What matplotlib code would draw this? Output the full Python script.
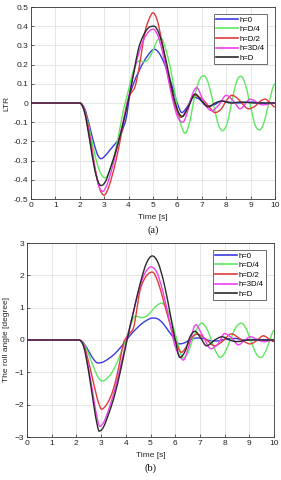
import matplotlib; matplotlib.use("Agg")
import matplotlib.pyplot as plt
from matplotlib.path import Path
from matplotlib.patches import PathPatch
from matplotlib.lines import Line2D

plt.rcParams["font.family"] = ["Liberation Sans", "DejaVu Sans"]

# ---- data: (time [s], value) key points per case ----
labels = ["h=0", "h=D/4", "h=D/2", "h=3D/4", "h=D"]
colors = ["#3a3ae0", "#5ee85e", "#e03a3a", "#f040f0", "#2a2a2a"]

# (a) LTR
ltr_t0 = [0, 2.0, 2.2, 2.4, 2.6, 2.75, 2.87, 3.0, 3.2, 3.4, 3.58, 3.75, 3.9, 4.05, 4.2, 4.4, 4.6, 4.8, 5.05, 5.25,
          5.45, 5.65, 5.85, 6.05, 6.18, 6.4, 6.66, 6.9, 7.2, 7.5, 7.8, 8.1, 8.5, 9.0, 9.5, 10]
ltr_h0 = [0, 0, -0.03, -0.12, -0.22, -0.275, -0.29, -0.28, -0.25, -0.22, -0.19, -0.14, -0.08, 0.04, 0.1, 0.16, 0.21, 0.25, 0.28, 0.26,
          0.21, 0.14, 0.06, -0.02, -0.05, -0.02, 0.03, 0.02, -0.015, -0.01, 0.01, 0.005, 0.0, 0.005, 0.0, 0.0]
ltr_t1 = [0, 2.0, 2.2, 2.4, 2.6, 2.8, 3.03, 3.2, 3.4, 3.6, 3.8, 4.0, 4.15, 4.3, 4.45, 4.6, 4.75, 4.95, 5.2, 5.35,
          5.5, 5.7, 5.9, 6.1, 6.32, 6.5, 6.7, 6.9, 7.09, 7.3, 7.5, 7.7, 7.86, 8.05, 8.25, 8.45, 8.61, 8.8,
          9.0, 9.2, 9.38, 9.55, 9.75, 10]
ltr_h1 = [0, 0, -0.04, -0.14, -0.26, -0.35, -0.39, -0.36, -0.28, -0.16, -0.03, 0.07, 0.15, 0.2, 0.22, 0.215, 0.22, 0.26, 0.33, 0.335,
          0.29, 0.19, 0.05, -0.09, -0.158, -0.1, 0.03, 0.12, 0.142, 0.09, -0.02, -0.12, -0.144, -0.1, 0.02, 0.12, 0.139, 0.09,
          -0.02, -0.12, -0.14, -0.1, 0.0, 0.1]
ltr_t2 = [0, 2.0, 2.2, 2.4, 2.6, 2.8, 3.0, 3.15, 3.3, 3.5, 3.75, 3.92, 4.05, 4.15, 4.25, 4.35, 4.5, 4.67, 4.85, 5.0, 5.15,
          5.35, 5.55, 5.8, 6.0, 6.14, 6.4, 6.66, 6.9, 7.1, 7.3, 7.54, 7.8, 8.0, 8.23, 8.5, 8.7, 8.91, 9.2, 9.4, 9.6, 9.8, 10]
ltr_h2 = [0, 0, -0.04, -0.16, -0.32, -0.44, -0.48, -0.45, -0.39, -0.29, -0.13, -0.01, 0.04, 0.06, 0.08, 0.13, 0.24, 0.37, 0.44, 0.47, 0.44,
          0.33, 0.19, 0.04, -0.05, -0.075, -0.03, 0.04, 0.03, 0.01, -0.02, -0.05, -0.03, 0.01, 0.04, 0.02, -0.01, -0.03, -0.015, 0.01, 0.02, 0.0, -0.02]
ltr_t3 = [0, 2.0, 2.2, 2.4, 2.6, 2.8, 2.95, 3.1, 3.3, 3.5, 3.75, 3.95, 4.15, 4.35, 4.55, 4.75, 5.0, 5.2, 5.4, 5.6,
          5.8, 6.0, 6.22, 6.45, 6.6, 6.79, 7.0, 7.2, 7.4, 7.7, 8.0, 8.3, 8.57, 8.98, 9.5, 10]
ltr_h3 = [0, 0, -0.05, -0.18, -0.33, -0.44, -0.46, -0.43, -0.35, -0.25, -0.11, 0.0, 0.12, 0.23, 0.31, 0.36, 0.385, 0.35, 0.26, 0.14,
          0.02, -0.07, -0.1, -0.03, 0.04, 0.08, 0.03, -0.02, -0.04, -0.01, 0.04, 0.01, -0.03, 0.02, -0.01, 0.0]
ltr_t4 = [0, 2.0, 2.2, 2.4, 2.6, 2.75, 2.87, 3.05, 3.25, 3.5, 3.75, 4.0, 4.2, 4.4, 4.6, 4.8, 5.04, 5.25, 5.45, 5.65,
          5.85, 6.05, 6.2, 6.45, 6.73, 7.0, 7.27, 7.55, 7.82, 8.2, 8.6, 9.2, 10]
ltr_h4 = [0, 0, -0.05, -0.19, -0.34, -0.41, -0.43, -0.41, -0.34, -0.24, -0.12, 0.02, 0.15, 0.28, 0.35, 0.39, 0.4, 0.36, 0.27, 0.15,
          0.03, -0.05, -0.07, -0.02, 0.047, 0.01, -0.02, 0.0, 0.01, 0.0, 0.005, 0.0, 0.0]

# (b) roll angle [degree]
roll_t0 = [0, 2.1, 2.3, 2.5, 2.7, 2.86, 3.05, 3.3, 3.56, 3.8, 3.97, 4.17, 4.4, 4.64, 4.85, 5.08, 5.3, 5.5, 5.72, 5.9, 6.06,
           6.2, 6.4, 6.6, 6.85, 7.1, 7.4, 7.7, 8.0, 8.4, 8.8, 9.3, 9.7, 10]
roll_h0 = [0, 0, -0.1, -0.35, -0.6, -0.71, -0.69, -0.58, -0.42, -0.22, -0.06, 0.14, 0.33, 0.5, 0.61, 0.68, 0.65, 0.52, 0.29, 0.1, -0.07,
           -0.12, -0.08, 0.0, 0.06, 0.05, -0.02, -0.03, 0.02, 0.05, 0.0, 0.02, 0.0, 0.0]
roll_t1 = [0, 2.1, 2.3, 2.5, 2.7, 2.9, 3.05, 3.25, 3.56, 3.75, 3.9, 4.05, 4.17, 4.37, 4.5, 4.64, 4.8, 5.0, 5.2, 5.45,
           5.65, 5.85, 6.05, 6.33, 6.5, 6.7, 6.9, 7.07, 7.3, 7.5, 7.7, 7.81, 8.0, 8.2, 8.45, 8.69, 8.9, 9.1, 9.3, 9.47,
           9.7, 9.85, 10]
roll_h1 = [0, 0, -0.12, -0.45, -0.85, -1.18, -1.27, -1.18, -0.84, -0.5, -0.2, 0.12, 0.4, 0.73, 0.72, 0.69, 0.72, 0.85, 1.03, 1.14,
           0.98, 0.6, 0.05, -0.56, -0.42, 0.0, 0.38, 0.52, 0.32, -0.08, -0.44, -0.54, -0.4, -0.05, 0.38, 0.52, 0.3, -0.1, -0.45, -0.54,
           -0.28, 0.05, 0.3]
roll_t2 = [0, 2.1, 2.3, 2.5, 2.7, 2.9, 3.02, 3.2, 3.56, 3.75, 3.9, 4.04, 4.17, 4.3, 4.58, 4.85, 5.08, 5.3, 5.52, 5.75,
           6.0, 6.25, 6.5, 6.7, 6.9, 7.2, 7.6, 7.9, 8.28, 8.6, 9.03, 9.3, 9.57, 9.8, 10]
roll_h2 = [0, 0, -0.15, -0.7, -1.35, -1.95, -2.14, -2.02, -1.35, -0.7, -0.11, 0.1, 0.22, 0.35, 1.54, 2.0, 2.1, 1.8, 1.23, 0.6,
           0.0, -0.38, -0.15, 0.1, 0.18, 0.05, -0.18, -0.05, 0.19, 0.05, -0.12, -0.02, 0.13, 0.03, -0.05]
roll_t3 = [0, 2.1, 2.3, 2.5, 2.7, 2.85, 2.95, 3.1, 3.35, 3.6, 3.85, 4.05, 4.3, 4.55, 4.8, 5.02, 5.25, 5.5, 5.75, 6.0,
           6.2, 6.33, 6.55, 6.83, 7.1, 7.45, 7.75, 8.0, 8.3, 8.55, 8.8, 9.05, 9.35, 9.6, 10]
roll_h3 = [0, 0, -0.2, -0.9, -1.8, -2.45, -2.67, -2.55, -2.05, -1.4, -0.6, 0.05, 0.85, 1.6, 2.1, 2.26, 2.1, 1.5, 0.65, -0.2,
           -0.52, -0.62, -0.2, 0.47, 0.15, -0.27, -0.1, 0.2, 0.05, -0.15, -0.02, 0.1, 0.0, -0.05, 0.0]
roll_t4 = [0, 2.1, 2.3, 2.5, 2.7, 2.85, 2.92, 3.05, 3.3, 3.55, 3.8, 4.05, 4.35, 4.6, 4.85, 5.07, 5.3, 5.55, 5.8, 6.0,
           6.19, 6.4, 6.6, 6.8, 7.0, 7.27, 7.6, 7.9, 8.2, 8.5, 9.0, 10]
roll_h4 = [0, 0, -0.22, -1.0, -2.0, -2.65, -2.82, -2.75, -2.3, -1.7, -0.9, 0.0, 1.0, 1.8, 2.4, 2.6, 2.4, 1.75, 0.8, 0.0,
           -0.54, -0.35, 0.1, 0.27, 0.1, -0.18, 0.0, 0.1, 0.0, -0.05, 0.0, 0.0]

ltr_t = [ltr_t0, ltr_t1, ltr_t2, ltr_t3, ltr_t4]
ltr_v = [ltr_h0, ltr_h1, ltr_h2, ltr_h3, ltr_h4]
roll_t = [roll_t0, roll_t1, roll_t2, roll_t3, roll_t4]
roll_v = [roll_h0, roll_h1, roll_h2, roll_h3, roll_h4]

TXT = "#262626"

def smooth_path(x, y):
    # draw through the read points with cubic Bezier pieces (flat tangent at extrema)
    n = len(x)
    d = [(y[i+1]-y[i])/(x[i+1]-x[i]) for i in range(n-1)]
    m = [0.0]*n
    for i in range(1, n-1):
        if d[i-1]*d[i] > 0:
            h0, h1 = x[i]-x[i-1], x[i+1]-x[i]
            m[i] = (h0*d[i] + h1*d[i-1])/(h0+h1)
    verts = [(x[0], y[0])]; codes = [Path.MOVETO]
    for i in range(n-1):
        h = x[i+1]-x[i]
        verts += [(x[i]+h/3, y[i]+m[i]*h/3), (x[i+1]-h/3, y[i+1]-m[i+1]*h/3), (x[i+1], y[i+1])]
        codes += [Path.CURVE4]*3
    return Path(verts, codes)

fig = plt.figure(figsize=(2.81, 4.80), dpi=100)
ax1 = fig.add_axes([31/281, 1-199/480, 244/281, 192/480])
ax2 = fig.add_axes([27/281, 1-437/480, 247/281, 194/480])

def draw(ax, ts, vs):
    for tt, vv, c in zip(ts, vs, colors):
        ax.add_patch(PathPatch(smooth_path(tt, vv), fill=False, ec=c, lw=1.0, capstyle="round", joinstyle="round"))

def style(ax, ylim, yticks, ylabel, tag, ylab_x):
    ax.set_xlim(0, 10); ax.set_ylim(*ylim)
    ax.set_xticks(range(0, 11)); ax.set_yticks(yticks)
    ax.grid(True, color="#e2e2e2", lw=0.6)
    ax.set_axisbelow(True)
    for s in ax.spines.values():
        s.set_color("#333333"); s.set_linewidth(0.6)
    ax.tick_params(labelsize=6, colors=TXT, direction="in", length=2, width=0.5, pad=2)
    ax.set_xlabel("Time [s]", fontsize=6, color=TXT)
    ax.xaxis.set_label_coords(0.5, -0.077)
    ax.set_ylabel(ylabel, fontsize=6, color=TXT)
    ax.yaxis.set_label_coords(ylab_x, 0.5)
    ax.text(0.5, -0.162, tag, transform=ax.transAxes, ha="center", va="center",
            fontsize=7.5, family="Liberation Serif", color="#111111")
    handles = [Line2D([], [], color=c, lw=1.2) for c in colors]
    leg = ax.legend(handles, labels, loc="upper right", bbox_to_anchor=(0.985, 0.985), fontsize=5.6, handlelength=2.9,
                    handletextpad=0.2, labelspacing=0.28, borderpad=0.3, fancybox=False, framealpha=1)
    leg.get_frame().set_edgecolor("#555555"); leg.get_frame().set_linewidth(0.6)

draw(ax1, ltr_t, ltr_v)
style(ax1, (-0.5, 0.5), [round(-0.5+0.1*i, 1) for i in range(11)], "LTR", "(a)", -0.085)
ax1.set_yticklabels(["-0.5", "-0.4", "-0.3", "-0.2", "-0.1", "0", "0.1", "0.2", "0.3", "0.4", "0.5"])

draw(ax2, roll_t, roll_v)
style(ax2, (-3, 3), range(-3, 4), "The roll angle [degree]", "(b)", -0.07)

fig.savefig("out.png", dpi=100)
